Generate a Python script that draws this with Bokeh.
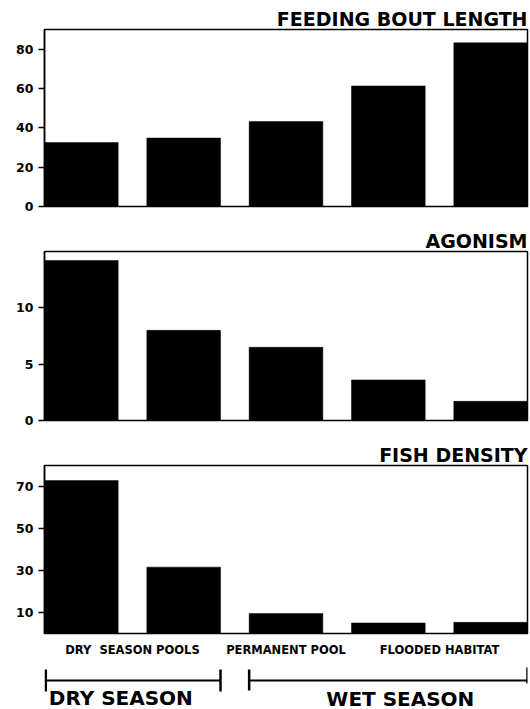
from bokeh.plotting import figure
from bokeh.layouts import column
from bokeh.models import Range1d, FixedTicker
from bokeh.core.properties import value
from bokeh.embed import file_html
from bokeh.resources import INLINE

# ---------------- data ----------------
habitats = ["Dry season pool A", "Dry season pool B", "Permanent pool",
            "Flooded habitat A", "Flooded habitat B"]
feeding_bout_length = [32.5, 34.8, 43.2, 61.3, 83.2]
agonism = [14.2, 8.0, 6.5, 3.6, 1.7]
fish_density = [72.8, 31.6, 9.5, 5.0, 5.3]

feeding_ticks = [0, 20, 40, 60, 80]
agonism_ticks = [0, 5, 10]
density_ticks = [10, 30, 50, 70]

panel_titles = ["FEEDING BOUT LENGTH", "AGONISM", "FISH DENSITY"]
panel_ymax = [90, 15, 80]

group_labels = ["DRY\u00a0 SEASON POOLS", "PERMANENT POOL", "FLOODED HABITAT"]
group_members = [[0, 1], [2], [3, 4]]
season_labels = ["DRY SEASON", "WET SEASON"]
season_members = [[0, 1], [2, 3, 4]]

# ---------------- layout constants ----------------
FONT = "DejaVu Sans"
FIG_W = 530
FRAME_L = 44
FRAME_R = 3
FRAME_W = FIG_W - FRAME_L - FRAME_R
BAR_W = 0.72
xs = list(range(len(habitats)))
X0 = xs[0] - BAR_W / 2
X1 = xs[-1] + BAR_W / 2
upp = (X1 - X0) / FRAME_W


def panel(vals, ymax, ticks, title, height, top, bottom):
    p = figure(width=FIG_W, height=height,
               x_range=Range1d(X0, X1), y_range=Range1d(0, ymax),
               x_axis_type=None, toolbar_location=None, output_backend="svg",
               min_border_left=FRAME_L, min_border_right=FRAME_R,
               min_border_top=top, min_border_bottom=bottom,
               title=title)
    p.title.align = "right"
    p.title.standoff = 0
    p.title.offset = 0
    p.title.text_font = FONT
    p.title.text_font_style = "bold"
    p.title.text_font_size = "19px"
    p.title.text_color = "black"
    p.vbar(x=xs, top=vals, width=BAR_W, fill_color="black",
           line_color="black", line_width=0.5)
    ax = p.yaxis[0]
    ax.ticker = FixedTicker(ticks=ticks)
    ax.minor_tick_line_color = None
    ax.major_tick_in = 0
    ax.major_tick_out = 6
    ax.major_tick_line_width = 1.5
    ax.major_tick_line_color = "black"
    ax.axis_line_width = 1.5
    ax.axis_line_color = "black"
    ax.major_label_standoff = 5
    ax.major_label_text_font = FONT
    ax.major_label_text_font_style = "bold"
    ax.major_label_text_font_size = "12.5px"
    ax.major_label_text_color = "black"
    p.ygrid.visible = False
    p.outline_line_color = "black"
    p.outline_line_width = 1.5
    p.outline_line_alpha = 1.0
    p.background_fill_color = "white"
    p.border_fill_color = "white"
    return p


p1 = panel(feeding_bout_length, panel_ymax[0], feeding_ticks, panel_titles[0], 227, 29, 21)
p2 = panel(agonism, panel_ymax[1], agonism_ticks, panel_titles[1], 214, 22, 21)
p3 = panel(fish_density, panel_ymax[2], density_ticks, panel_titles[2], 194, 22, 2)

# ---------------- bottom labels / brackets ----------------
H4 = 74
p4 = figure(width=FIG_W, height=H4,
            x_range=Range1d(X0, X1), y_range=Range1d(0, H4),
            x_axis_type=None, y_axis_type=None, toolbar_location=None,
            output_backend="svg", min_border_left=FRAME_L,
            min_border_right=FRAME_R, min_border_top=0, min_border_bottom=0,
            outline_line_color=None)

centres = [sum(m) / len(m) for m in group_members]
p4.text(x=centres, y=[59.5] * len(centres), text=group_labels,
        text_align="center", text_baseline="middle",
        text_font=value(FONT), text_font_style="bold",
        text_font_size="11.5px", text_color="black")

dry_start = season_members[0][0] - BAR_W / 2 + 1.3 * upp
dry_end = season_members[0][-1] + BAR_W / 2
wet_start = season_members[1][0] - BAR_W / 2
wet_end = season_members[1][-1] + BAR_W / 2

p4.segment(x0=[dry_start, wet_start], y0=[29, 29],
           x1=[dry_end, wet_end], y1=[29, 29],
           line_width=2, line_color="black")
p4.segment(x0=[dry_start, dry_end, wet_start, wet_end], y0=[18, 18, 19, 26],
           x1=[dry_start, dry_end, wet_start, wet_end], y1=[40, 40, 40, 42],
           line_width=2.5, line_color="black")

p4.text(x=[dry_start + 3 * upp], y=[12], text=[season_labels[0]],
        text_align="left", text_baseline="middle",
        text_font=value(FONT), text_font_style="bold",
        text_font_size="20px", text_color="black")
p4.text(x=[(wet_start + wet_end) / 2 + 12 * upp], y=[11], text=[season_labels[1]],
        text_align="center", text_baseline="middle",
        text_font=value(FONT), text_font_style="bold",
        text_font_size="20px", text_color="black")

layout = column(p1, p2, p3, p4, spacing=0)
open("out.html", "w").write(file_html(layout, INLINE))
